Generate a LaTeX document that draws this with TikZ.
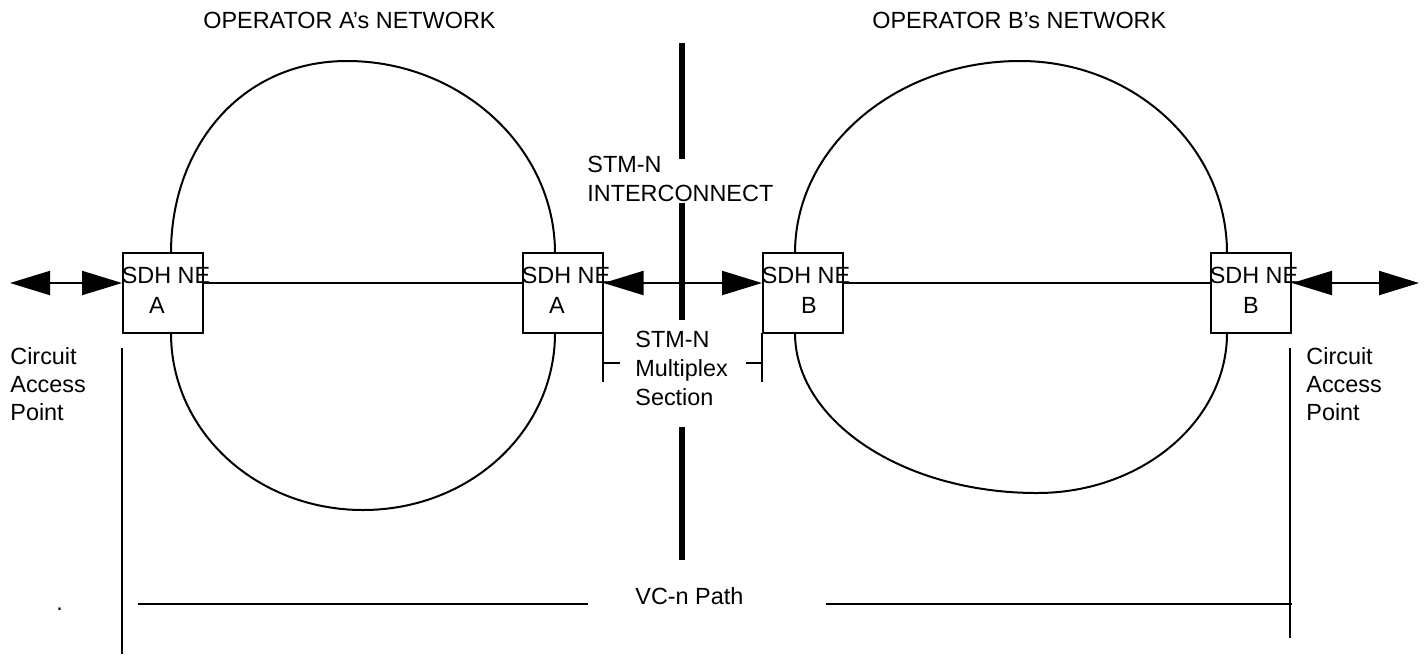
\documentclass[tikz,border=0pt]{standalone}
\usepackage{fontspec}
\setmainfont{Liberation Sans}
\usetikzlibrary{arrows.meta,calc}
\begin{document}
\begin{tikzpicture}[x=0.5pt,y=-0.5pt,
  thin line/.style={line width=1pt},
  thick bar/.style={line width=2.6pt},
  nebox/.style={draw,line width=1pt,minimum size=40pt,inner sep=0pt},
  txt/.style={inner sep=0pt,anchor=base west,font=\fontsize{11.7}{14}\selectfont},
  ctxt/.style={inner sep=0pt,anchor=base,font=\fontsize{11.7}{14}\selectfont},
  dbl/.style={line width=1pt,{Triangle[length=20pt,width=12pt]}-{Triangle[length=20pt,width=12pt]}}]
\useasboundingbox (0,0) rectangle (1428,654);

% boxes
\node[nebox] (A1) at (163,293) {};
\node[nebox] (A2) at (562.5,293) {};
\node[nebox] (B1) at (803,293) {};
\node[nebox] (B2) at (1251,293) {};

% rings
\draw[thin line] (171,253) .. controls (171,147) and (241,61) .. (347,61)
  .. controls (460,61) and (555,147) .. (555,253);
\draw[thin line] (171,333) .. controls (171,432) and (257,510) .. (363,510)
  .. controls (469,510) and (555,432) .. (555,333);
\draw[thin line] (795,253) .. controls (795,147) and (896,61) .. (1020,61)
  .. controls (1134,61) and (1227,147) .. (1227,253);
\draw[thin line] (795,333) .. controls (795,421) and (903,493) .. (1037,493)
  .. controls (1142,493) and (1227,421) .. (1227,333);

% horizontal links
\draw[thin line] ($(A1.east)+(0,-10)$) -- ($(A2.west)+(0,-10)$);
\draw[thin line] ($(B1.east)+(0,-10)$) -- ($(B2.west)+(0,-10)$);

% double arrows
\coordinate (LT) at (10,283);
\coordinate (RT) at (1419,283);
\draw[dbl] (LT) -- ($(A1.west)+(0,-10)$);
\draw[dbl] ($(A2.east)+(0,-10)$) -- ($(B1.west)+(0,-10)$);
\draw[dbl] ($(B2.east)+(0,-10)$) -- (RT);

% box texts
\node[ctxt] (tA1a) at (166,283) {SDH NE};
\node[ctxt] (tA1b) at (157,313) {A};
\node[ctxt] (tA2a) at (566,283) {SDH NE};
\node[ctxt] (tA2b) at (557,313) {A};
\node[ctxt] (tB1a) at (806,283) {SDH NE};
\node[ctxt] (tB1b) at (809,313) {B};
\node[ctxt] (tB2a) at (1254,283) {SDH NE};
\node[ctxt] (tB2b) at (1251,313) {B};

% thick interconnect bar
\draw[thick bar] (682,43) -- (682,159);
\draw[thick bar] (682,203) -- (682,320);
\draw[thick bar] (682,427) -- (682,560);

% multiplex section brackets
\draw[thin line] (603,333) -- (603,382);
\draw[thin line] (603,363) -- (620,363);
\draw[thin line] (762,333) -- (762,382);
\draw[thin line] (746,363) -- (762,363);

% access point lines
\draw[thin line] (122,348) -- (122,654);
\draw[thin line] (1290,348) -- (1290,638);
\draw[thin line] (138,604) -- (588,604);
\draw[thin line] (826,604) -- (1292,604);

% texts
\node[txt] (opA) at (203,28) {OPERATOR A’s NETWORK};
\node[txt] (opB) at (872,28) {OPERATOR B’s NETWORK};
\node[txt] (stm1) at (587,172) {STM-N};
\node[txt] (stm2) at (587,201) {INTERCONNECT};
\node[txt] (ms1) at (635,347) {STM-N};
\node[txt] (ms2) at (635,376) {Multiplex};
\node[txt] (ms3) at (635,405) {Section};
\node[txt] (cl1) at (10,364) {Circuit};
\node[txt] (cl2) at (10,392) {Access};
\node[txt] (cl3) at (10,420) {Point};
\node[txt] (cr1) at (1306,364) {Circuit};
\node[txt] (cr2) at (1306,392) {Access};
\node[txt] (cr3) at (1306,420) {Point};
\node[txt] (vc) at (635,604) {VC-n Path};
\node[txt] (dot) at (56,610) {.};
\end{tikzpicture}
\end{document}
